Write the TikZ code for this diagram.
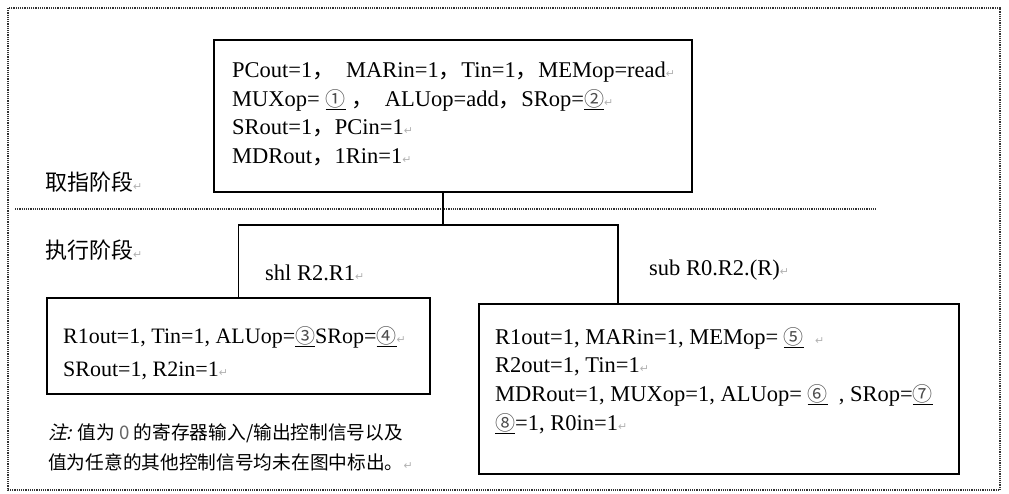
\documentclass[tikz,border=0pt]{standalone}
\usepackage{fontspec}
\setmainfont{Liberation Serif}
\newfontfamily\cjk{Noto Sans CJK SC}
\newfontfamily\cjkit[FakeSlant=0.25]{Noto Sans CJK SC}
\newfontfamily\symf{DejaVu Sans}
\usetikzlibrary{positioning}
\newcommand{\ret}{{\symf\color{gray!60}\fontsize{11}{11}\selectfont ↵}}
\newcommand{\cnum}[1]{\underline{{\cjk\color{black!70}\fontsize{20}{20}\selectfont #1}}}
\newcommand{\zc}{{\cjk ，}}

\begin{document}
\begin{tikzpicture}[x=1pt,y=-1pt,
  box/.style={draw,line width=1.3pt,inner sep=0pt},
  wire/.style={line width=1.3pt},
  dots/.style={densely dotted,line width=1.2pt,black!80},
  code/.style={anchor=west,align=left,inner sep=0pt,font=\fontsize{22.5}{28.5}\selectfont},
  stagetxt/.style={anchor=west,inner sep=0pt,font=\cjk\fontsize{22}{22}\selectfont},
  note/.style={anchor=west,align=left,inner sep=0pt,font=\cjk\fontsize{18.7}{30}\selectfont}]
  \useasboundingbox (0,0) rectangle (1009,493);
  \draw[dots] (8,8) rectangle (1000,490);
  \draw[dots] (15,209) -- (877,209);

  \node[box,minimum width=478pt,minimum height=152pt] (fetch) at (453,116) {};
  \node[box,minimum width=383pt,minimum height=96pt]  (lbox)  at (238.5,346) {};
  \node[box,minimum width=480pt,minimum height=170pt] (rbox)  at (719,389) {};

  \node[code] (fetchtxt) at (232,114) {PCout=1\zc\ \ MARin=1\zc Tin=1\zc MEMop=read\ret\\
    MUXop=\ \cnum{①}\ \zc\ \ ALUop=add\zc SRop=\cnum{②}\ret\\
    SRout=1\zc PCin=1\ret\\
    MDRout\zc 1Rin=1\ret};
  \node[code,font=\fontsize{22}{33}\selectfont] (ltxt) at (63,353)
    {R1out=1, Tin=1, ALUop=\cnum{③}SRop=\cnum{④}\ret\\
     SRout=1, R2in=1\ret};
  \node[code,font=\fontsize{22.5}{28.7}\selectfont] (rtxt) at (495,380.5)
    {R1out=1, MARin=1, MEMop=\ \cnum{⑤}\ \ \ret\\
     R2out=1, Tin=1\ret\\
     MDRout=1, MUXop=1, ALUop=\ \cnum{⑥}\ \ , SRop=\cnum{⑦}\\
     \cnum{⑧}=1, R0in=1\ret};

  \node[code] (shl) at (265,273) {shl R2.R1\ret};
  \node[code] (sub) at (649,270) {sub R0.R2.(R)\ret};
  \node[stagetxt] (fetchlbl) at (45,182) {取指阶段\ret};
  \node[stagetxt] (execlbl)  at (45,250) {执行阶段\ret};
  \node[note] (remark) at (48,447) {{\cjkit 注:} 值为 {\color{black!60}0} 的寄存器输入/输出控制信号以及\\
    值为任意的其他控制信号均未在图中标出。\ret};

  % fetch -> two branches
  \coordinate (split) at (443,225);
  \coordinate (rjoin) at (618,304);
  \draw[wire] (split |- fetch.south) -- (split);
  \draw[wire] (lbox.north) |- (split) -| (rjoin);
\end{tikzpicture}
\end{document}
